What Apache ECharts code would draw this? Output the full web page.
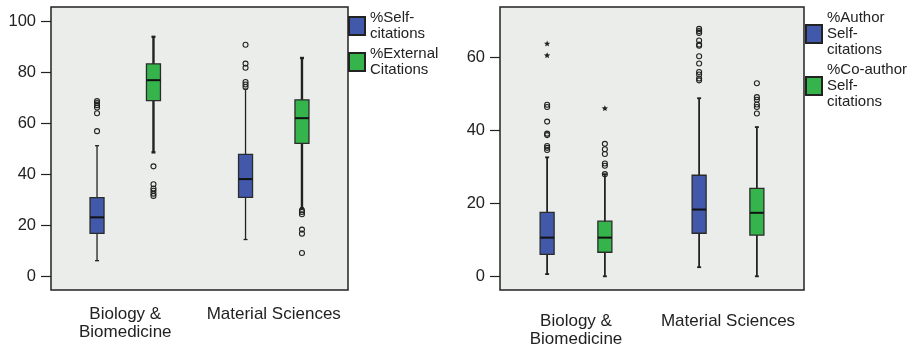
<!DOCTYPE html>
<html>
<head>
<meta charset="utf-8">
<script src="https://cdn.jsdelivr.net/npm/echarts@6/dist/echarts.min.js"></script>
<style>
  html, body { margin: 0; background: #fff; }
  #chart { width: 917px; height: 353px; }
</style>
</head>
<body>
<div id="chart"></div>
<script>
const categories = ['Biology &\nBiomedicine', 'Material Sciences'];

// left panel, one [min, Q1, median, Q3, max] per category
const selfCitations = [[6.1, 16.8, 23.1, 30.8, 51.2], [14.4, 30.9, 38.1, 47.8, 73.4]];
const externalCitations = [[48.6, 68.9, 76.9, 83.3, 93.9], [26.6, 52.1, 62.0, 69.2, 85.6]];
const selfOutliers = [[68.7, 67.9, 67.1, 66.2, 63.9, 56.9], [90.8, 83.4, 81.8, 76.2, 75.2, 74.2]];
const externalOutliers = [[43.1, 36.1, 34.4, 33.5, 32.4, 31.5], [25.9, 25.2, 24.3, 18.3, 16.7, 9.1]];

// right panel
const authorSelf = [[0.6, 6.0, 10.6, 17.5, 32.6], [2.5, 11.8, 18.3, 27.7, 48.8]];
const coAuthorSelf = [[0, 6.6, 10.6, 15.1, 28.0], [0, 11.3, 17.4, 24.1, 40.9]];
const authorOutliers = [
  [47.0, 46.4, 42.4, 39.1, 38.7, 35.7, 35.2, 34.6],
  [67.8, 67.2, 66.7, 64.6, 63.5, 63.2, 60.3, 58.3, 56.0, 55.3, 54.2, 53.7],
];
const authorExtremes = [[63.7, 60.5], []];
const coAuthorOutliers = [[36.3, 34.8, 33.5, 30.9, 30.3, 28.0], [52.9, 49.1, 48.4, 47.1, 46.4, 44.6]];
const coAuthorExtremes = [[46.0], []];

const leftTicks = [0, 20, 40, 60, 80, 100];
const rightTicks = [0, 20, 40, 60];

const FONT = '"Liberation Sans", Arial, sans-serif';
const INK = '#222';
const BLUE = '#4259ab';
const GREEN = '#34b44b';
const BOX_SHIFT = 0.19; // share of the category band between the group centre and a box
const BOX_W = 14;
const CAP_W = 4;

const starPoints = (cx, cy, r) => {
  const pts = [];
  for (let i = 0; i < 10; i++) {
    const a = -Math.PI / 2 + (i * Math.PI) / 5;
    const rr = i % 2 ? r * 0.45 : r;
    pts.push([cx + rr * Math.cos(a), cy + rr * Math.sin(a)]);
  }
  return pts;
};

// whisker + box + median + outliers, drawn through the axis scales
const boxItem = (sign, outliers, extremes, whiskerW) => (params, api) => {
  const cat = api.value(0);
  const x = api.coord([cat, 0])[0] + sign * api.size([1, 0])[0] * BOX_SHIFT;
  const y = (v) => api.coord([cat, v])[1];
  const [mn, q1, md, q3, mx] = [1, 2, 3, 4, 5].map((i) => y(api.value(i)));
  const ink = { stroke: INK, lineWidth: whiskerW };
  const children = [
    { type: 'line', shape: { x1: x, y1: mn, x2: x, y2: mx }, style: ink },
    { type: 'line', shape: { x1: x - CAP_W / 2, y1: mn, x2: x + CAP_W / 2, y2: mn }, style: ink },
    { type: 'line', shape: { x1: x - CAP_W / 2, y1: mx, x2: x + CAP_W / 2, y2: mx }, style: ink },
    {
      type: 'rect',
      shape: { x: x - BOX_W / 2, y: q3, width: BOX_W, height: q1 - q3 },
      style: { fill: api.visual('color'), stroke: '#2b2b2b', lineWidth: 1.3 },
    },
    {
      type: 'line',
      shape: { x1: x - BOX_W / 2, y1: md, x2: x + BOX_W / 2, y2: md },
      style: { stroke: '#111', lineWidth: 2 },
    },
  ];
  outliers[cat].forEach((v) => {
    children.push({
      type: 'circle',
      shape: { cx: x, cy: y(v), r: 2.5 },
      style: { fill: 'none', stroke: INK, lineWidth: 1.1 },
    });
  });
  extremes[cat].forEach((v) => {
    children.push({ type: 'polygon', shape: { points: starPoints(x, y(v), 3.3) }, style: { fill: INK } });
  });
  return { type: 'group', children };
};

const boxSeries = (name, color, stats, outliers, extremes, sign, grid, whiskerW) => ({
  name,
  type: 'custom',
  xAxisIndex: grid,
  yAxisIndex: grid,
  itemStyle: { color, borderColor: INK, borderWidth: 1 },
  encode: { x: 0, y: [1, 2, 3, 4, 5] },
  data: stats.map((s, i) => [i, ...s]),
  renderItem: boxItem(sign, outliers, extremes, whiskerW),
});

const yAxis = (gridIndex, min, max, ticks) => ({
  type: 'value',
  gridIndex,
  min,
  max,
  axisLine: { show: false },
  splitLine: { show: false },
  axisTick: { show: true, length: 10, customValues: ticks, lineStyle: { color: INK, width: 1.2 } },
  axisLabel: { customValues: ticks, margin: 15, fontSize: 16.5, color: INK, fontFamily: FONT },
});

const xAxis = (gridIndex, margin) => ({
  type: 'category',
  gridIndex,
  data: categories,
  axisLine: { show: false },
  axisTick: { alignWithLabel: true, length: 10, lineStyle: { color: INK, width: 1.2 } },
  axisLabel: { margin, fontSize: 17, lineHeight: 18, color: INK, fontFamily: FONT, interval: 0 },
});

const legend = (left, top, names, lineHeight, itemGap) => ({
  left,
  top,
  padding: 0,
  orient: 'vertical',
  icon: 'rect',
  itemWidth: 16,
  itemHeight: 18,
  itemGap,
  data: names,
  textStyle: { fontSize: 15, lineHeight, color: INK, fontFamily: FONT },
});

const gridBox = { show: true, backgroundColor: '#ebedeb', borderColor: INK, borderWidth: 1.5 };

const chart = echarts.init(document.getElementById('chart'));
chart.setOption({
  animation: false,
  grid: [
    { left: 51, top: 7, right: 569, bottom: 63, ...gridBox },
    { left: 500, top: 7, right: 113, bottom: 63, ...gridBox },
  ],
  xAxis: [xAxis(0, 15), xAxis(1, 22)],
  yAxis: [yAxis(0, -5.4, 105.6, leftTicks), yAxis(1, -3.75, 73.8, rightTicks)],
  legend: [
    legend(348, 10, ['%Self-\ncitations', '%External\nCitations'], 16, 4),
    legend(805, 10, ['%Author\nSelf-\ncitations', '%Co-author\nSelf-\ncitations'], 16, 4),
  ],
  series: [
    boxSeries('%Self-\ncitations', BLUE, selfCitations, selfOutliers, [[], []], -1, 0, 1.3),
    boxSeries('%External\nCitations', GREEN, externalCitations, externalOutliers, [[], []], 1, 0, 2.4),
    boxSeries('%Author\nSelf-\ncitations', BLUE, authorSelf, authorOutliers, authorExtremes, -1, 1, 1.8),
    boxSeries('%Co-author\nSelf-\ncitations', GREEN, coAuthorSelf, coAuthorOutliers, coAuthorExtremes, 1, 1, 1.8),
  ],
});

window.addEventListener('resize', () => chart.resize());
</script>
</body>
</html>
